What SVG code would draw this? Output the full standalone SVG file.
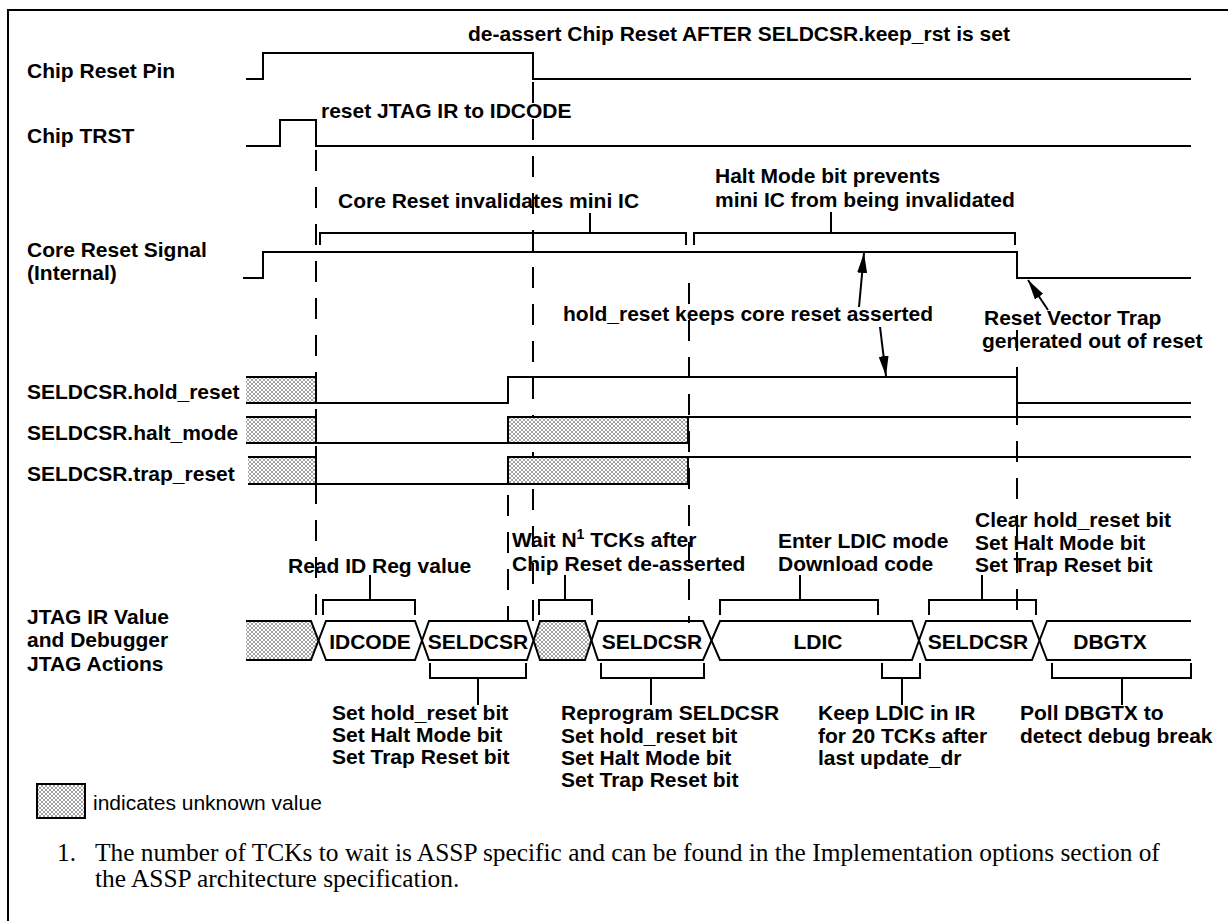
<svg xmlns="http://www.w3.org/2000/svg" width="1228" height="921" viewBox="0 0 1228 921">
<style>
.t{font-family:"Liberation Sans",Arial,Helvetica,sans-serif;font-weight:bold;font-size:21px;fill:#000}
.r{font-family:"Liberation Sans",Arial,Helvetica,sans-serif;font-size:21px;fill:#000}
.f{font-family:"Liberation Serif","Times New Roman",serif;font-size:25.4px;fill:#000}
.w{fill:none;stroke:#000;stroke-width:2}
.d{fill:none;stroke:#000;stroke-width:2;stroke-dasharray:21 16}
.h{fill:url(#hatch);stroke:none}
.m{text-anchor:middle}
</style>
<defs>
<pattern id="hatch" width="4" height="4" patternUnits="userSpaceOnUse">
<rect width="4" height="4" fill="#fff"/>
<path d="M0,0 L4,4 M4,0 L0,4" stroke="#8c8c8c" stroke-width="0.8"/>
</pattern>
<marker id="ah" viewBox="0 0 20 10" refX="20" refY="5" markerWidth="20" markerHeight="10" markerUnits="userSpaceOnUse" orient="auto">
<path d="M0,0 L20,5 L0,10 Z" fill="#000"/>
</marker>
</defs>
<rect width="1228" height="921" fill="#fff"/>
<g id="frame">
<path class="w" d="M8,921 V10 H1228"/>
</g>
<g id="title"><text class="t" x="468" y="41">de-assert Chip Reset AFTER SELDCSR.keep_rst is set</text></g>

<g id="guides">
<path class="d" d="M316,150 V621"/>
<path class="d" d="M533,82 V622"/>
<path class="d" d="M508,495 V621"/>
<path class="d" d="M689,283 V623"/>
<path class="d" d="M1017,330 V622"/>
</g>

<g id="chip-reset-pin">
<text class="t" x="27" y="78">Chip Reset Pin</text>
<polyline class="w" points="246,79 263,79 263,53 533,53 533,79 1191,79"/>
</g>
<g id="chip-trst">
<text class="t" x="27" y="143">Chip TRST</text>
<polyline class="w" points="246,146 280,146 280,120 316,120 316,146 1191,146"/>
<text class="t" x="321" y="118">reset JTAG IR to IDCODE</text>
</g>
<g id="core-reset">
<text class="t" x="27" y="257">Core Reset Signal</text>
<text class="t" x="27" y="280">(Internal)</text>
<polyline class="w" points="243,278 263,278 263,252 1017,252 1017,278 1191,278"/>
</g>
<g id="note-invalidate">
<text class="t" x="338" y="208">Core Reset invalidates mini IC</text>
<path class="w" d="M320,245 V233 H686 V245 M590,233 V213"/>
</g>
<g id="note-halt">
<text class="t" x="715" y="183">Halt Mode bit prevents</text>
<text class="t" x="715" y="207">mini IC from being invalidated</text>
<path class="w" d="M694,245 V233 H1015 V245 M831,233 V212"/>
</g>
<g id="note-hold">
<text class="t" x="563" y="321">hold_reset keeps core reset asserted</text>
</g>
<g id="note-trap">
<text class="t" x="984" y="325">Reset Vector Trap</text>
<text class="t" x="982" y="348">generated out of reset</text>
</g>

<g id="hold-reset">
<text class="t" x="27" y="399">SELDCSR.hold_reset</text>
<rect class="h" x="246" y="377" width="70" height="26"/>
<polyline class="w" points="246,377 316,377 316,403 508,403 508,377 1017,377 1017,403 1191,403"/>
<path class="w" d="M246,403 H316"/>
</g>
<g id="halt-mode">
<text class="t" x="27" y="440">SELDCSR.halt_mode</text>
<rect class="h" x="246" y="417" width="70" height="26"/>
<rect class="h" x="508" y="417" width="180" height="26"/>
<polyline class="w" points="246,417 316,417 316,443 688,443 688,417"/>
<polyline class="w" points="508,443 508,417 1191,417"/>
<path class="w" d="M246,443 H316"/>
</g>
<g id="trap-reset">
<text class="t" x="27" y="481">SELDCSR.trap_reset</text>
<rect class="h" x="248" y="457" width="68" height="27"/>
<rect class="h" x="508" y="457" width="180" height="27"/>
<polyline class="w" points="248,457 316,457 316,484 688,484 688,457"/>
<polyline class="w" points="508,484 508,457 1191,457"/>
<path class="w" d="M248,484 H316"/>
</g>

<g id="jtag">
<text class="t" x="27" y="624">JTAG IR Value</text>
<text class="t" x="27" y="647">and Debugger</text>
<text class="t" x="27" y="671">JTAG Actions</text>
<polygon class="h" points="246,621 311,621 318,640.5 311,660 246,660"/>
<polygon class="h" points="533.5,640.5 540,621 585,621 591.5,640.5 585,660 540,660"/>
<path class="w" d="M246,621 H311 L326,660 H415 L429,621 H527 L540,660 H585 L598,621 H703 L720,660 H912 L926,621 H1032 L1047,660 H1191"/>
<path class="w" d="M246,660 H311 L326,621 H415 L429,660 H527 L540,621 H585 L598,660 H703 L720,621 H912 L926,660 H1032 L1047,621 H1191"/>
<text class="t m" x="370" y="649">IDCODE</text>
<text class="t m" x="478" y="649">SELDCSR</text>
<text class="t m" x="652" y="649">SELDCSR</text>
<text class="t m" x="818" y="649">LDIC</text>
<text class="t m" x="978" y="649">SELDCSR</text>
<text class="t m" x="1110" y="649">DBGTX</text>
</g>

<g id="note-readid">
<text class="t" x="288" y="573">Read ID Reg value</text>
<path class="w" d="M323,615 V600 H415 V615 M370,600 V575"/>
</g>
<g id="note-wait">
<text class="t" x="512" y="547">Wait N<tspan font-size="14" dy="-8">1</tspan><tspan dy="8"> TCKs after</tspan></text>
<text class="t" x="512" y="571">Chip Reset de-asserted</text>
<path class="w" d="M539,615 V600 H592 V615 M565,600 V575"/>
</g>
<g id="note-ldic">
<text class="t" x="778" y="548">Enter LDIC mode</text>
<text class="t" x="778" y="571">Download code</text>
<path class="w" d="M720,615 V600 H878 V615 M800,600 V575"/>
</g>
<g id="note-clear">
<text class="t" x="975" y="527">Clear hold_reset bit</text>
<text class="t" x="975" y="550">Set Halt Mode bit</text>
<text class="t" x="975" y="572">Set Trap Reset bit</text>
<path class="w" d="M929,615 V600 H1036 V615 M982,600 V575"/>
</g>
<g id="note-set1">
<path class="w" d="M430,663 V678 H526 V663 M478,678 V705"/>
<text class="t" x="332" y="720">Set hold_reset bit</text>
<text class="t" x="332" y="742">Set Halt Mode bit</text>
<text class="t" x="332" y="764">Set Trap Reset bit</text>
</g>
<g id="note-reprogram">
<path class="w" d="M601,663 V678 H704 V663 M651,678 V705"/>
<text class="t" x="561" y="720">Reprogram SELDCSR</text>
<text class="t" x="561" y="743">Set hold_reset bit</text>
<text class="t" x="561" y="765">Set Halt Mode bit</text>
<text class="t" x="561" y="787">Set Trap Reset bit</text>
</g>
<g id="note-keep">
<path class="w" d="M882,663 V678 H920 V663 M902,678 V705"/>
<text class="t" x="818" y="720">Keep LDIC in IR</text>
<text class="t" x="818" y="743">for 20 TCKs after</text>
<text class="t" x="818" y="765">last update_dr</text>
</g>
<g id="note-poll">
<path class="w" d="M1052,663 V678 H1191 V663 M1122,678 V705"/>
<text class="t" x="1020" y="720">Poll DBGTX to</text>
<text class="t" x="1020" y="743">detect debug break</text>
</g>

<g id="connectors">
<line class="w" x1="859" y1="307" x2="864" y2="253" marker-end="url(#ah)"/>
<line class="w" x1="880" y1="327" x2="886" y2="376" marker-end="url(#ah)"/>
<line class="w" x1="1048" y1="310" x2="1028" y2="280" marker-end="url(#ah)"/>
</g>

<g id="legend">
<rect x="37" y="784" width="48" height="34" fill="url(#hatch)" stroke="#000" stroke-width="2"/>
<text class="r" x="93" y="810">indicates unknown value</text>
</g>
<g id="footnote">
<text class="f" x="57" y="861">1.</text>
<text class="f" x="95" y="861">The number of TCKs to wait is ASSP specific and can be found in the Implementation options section of</text>
<text class="f" x="95" y="887">the ASSP architecture specification.</text>
</g>
</svg>
